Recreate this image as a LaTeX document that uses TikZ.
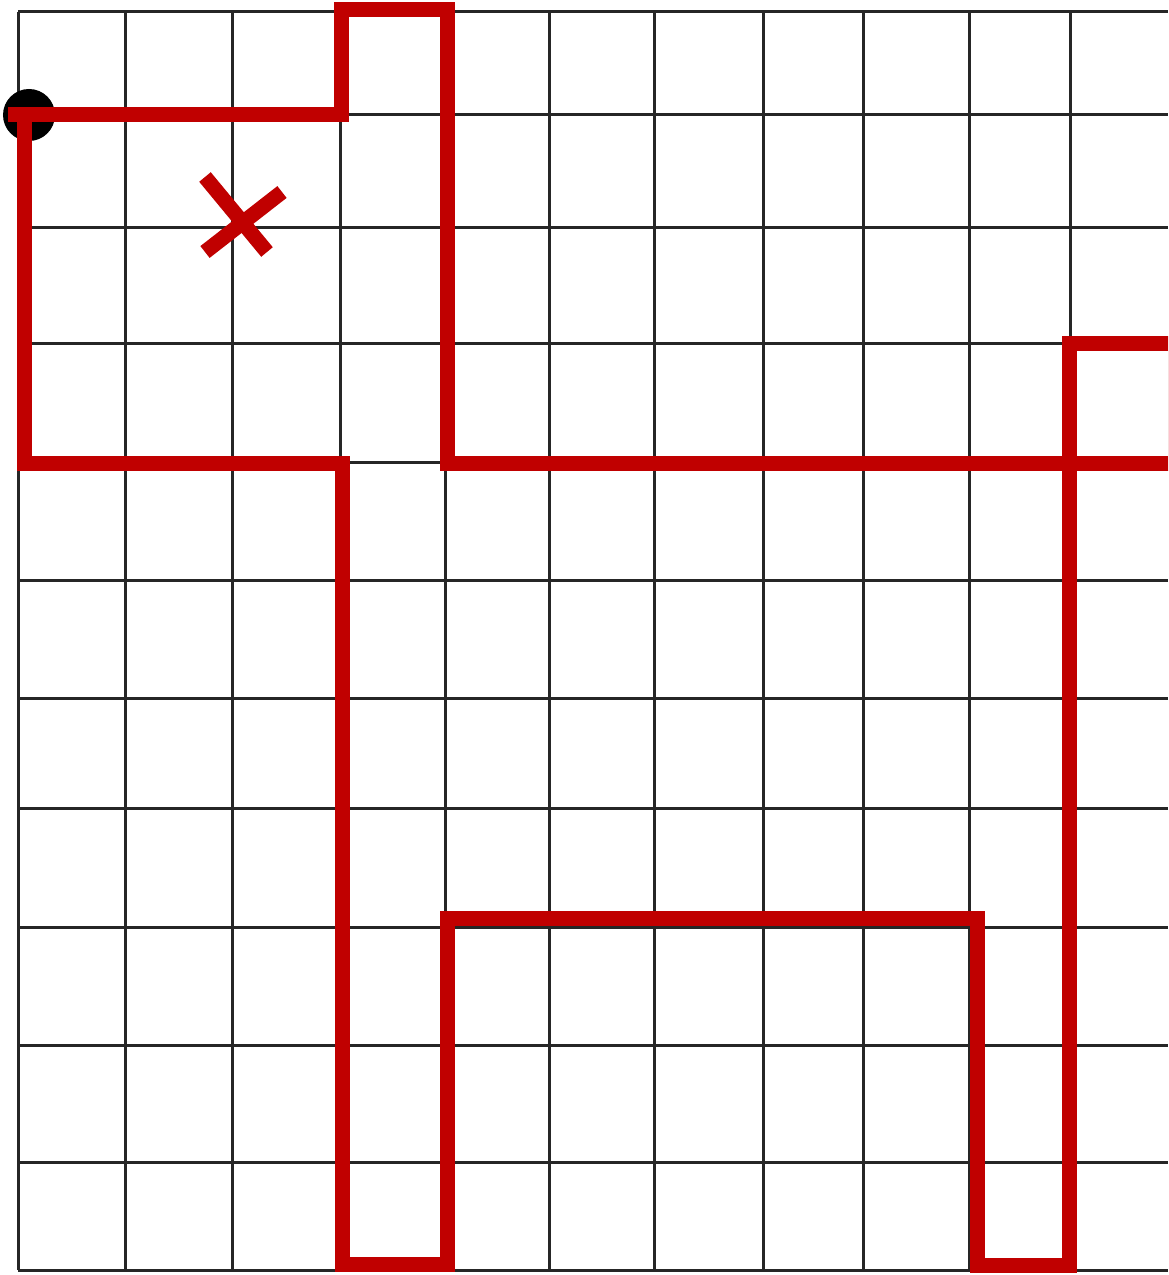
\documentclass[tikz,border=0pt]{standalone}
\definecolor{rossoPercorso}{HTML}{C00000}
\begin{document}
\begin{tikzpicture}[x=0.2mm, y=-0.2mm,
        griglia/.style={line width=0.6mm, black!85},
        percorso/.style={line width=3mm, rossoPercorso, line join=miter}]
        \clip (0,0) rectangle (1168,1275);
        \fill[white] (0,0) rectangle (1168,1275);

        % Linee verticali della griglia
        \foreach \x in {18,125,232,340,445,549,654,763,863,969,1070} {
            \draw[griglia] (\x,12) -- (\x,1270);
        }
        % Linee orizzontali della griglia
        \foreach \y in {12,115,228,343,462,580,698,808,927,1045,1162,1270} {
            \draw[griglia] (18,\y) -- (1168,\y);
        }

        % Punto di partenza
        \coordinate (start) at (29,115);
        \fill[black] (start) circle (5.2mm);

        % Percorso chiuso (rosso)
        \draw[percorso] (8,115) -- (341,115) -- (341,10) -- (447,10) -- (447,463)
            -- (1175,463) -- (1175,343) -- (1069,343) -- (1069,1265) -- (977,1265)
            -- (977,918) -- (447,918) -- (447,1264) -- (342,1264) -- (342,463)
            -- (24,463) -- (24,108);

        % Croce
        \draw[line width=3mm, rossoPercorso] (205,177) -- (267,252);
        \draw[line width=3mm, rossoPercorso] (282,192) -- (205,252);
\end{tikzpicture}
\end{document}
